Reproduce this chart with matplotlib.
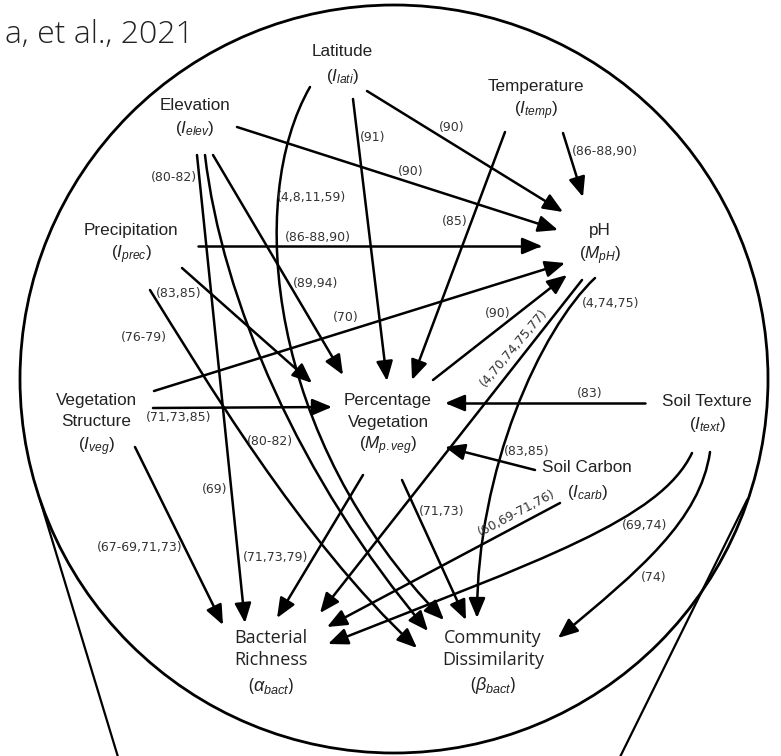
import matplotlib
matplotlib.use("Agg")
import matplotlib.pyplot as plt
from matplotlib import font_manager
from matplotlib.patches import Circle, FancyArrowPatch
from matplotlib.path import Path

plt.rcParams['mathtext.fontset'] = 'custom'
plt.rcParams['mathtext.rm'] = 'Liberation Sans'
plt.rcParams['mathtext.it'] = 'Liberation Sans:italic'

# node labels: (lines of text, x, y of each line)
node_names = ["Latitude", "Elevation", "Temperature", "pH", "Precipitation",
              "Vegetation Structure", "Percentage Vegetation", "Soil Texture",
              "Soil Carbon", "Bacterial Richness", "Community Dissimilarity"]
node_lines = [
    ["Latitude", r"($I_{lati}$)"],
    ["Elevation", r"($I_{elev}$)"],
    ["Temperature", r"($I_{temp}$)"],
    ["pH", r"($M_{pH}$)"],
    ["Precipitation", r"($I_{prec}$)"],
    ["Vegetation", "Structure", r"($I_{veg}$)"],
    ["Percentage", "Vegetation", r"($M_{p.veg}$)"],
    ["Soil Texture", r"($I_{text}$)"],
    ["Soil Carbon", r"($I_{carb}$)"],
    ["Bacterial", "Richness", r"($\alpha_{bact}$)"],
    ["Community", "Dissimilarity", r"($\beta_{bact}$)"],
]
node_x = [342, 195, 536, 600, 131, 96, 388, 707, 587, 271, 493]
node_y = [[52, 77], [105, 129], [87, 111], [231, 256], [230, 255],
          [400, 422, 447], [400, 422, 446], [402, 425], [468, 493],
          [638, 660, 686], [638, 660, 686]]

# edges: source, target, citation
edges = [
    ("Latitude", "pH", "(90)"),
    ("Latitude", "Percentage Vegetation", "(91)"),
    ("Latitude", "Community Dissimilarity", "(4,8,11,59)"),
    ("Temperature", "pH", "(86-88,90)"),
    ("Temperature", "Percentage Vegetation", "(85)"),
    ("Elevation", "pH", "(90)"),
    ("Elevation", "Community Dissimilarity", "(80-82)"),
    ("Elevation", "Percentage Vegetation", "(89,94)"),
    ("Elevation", "Bacterial Richness", "(69)"),
    ("Precipitation", "pH", "(86-88,90)"),
    ("Precipitation", "Percentage Vegetation", "(83,85)"),
    ("Precipitation", "Community Dissimilarity", "(76-79)"),
    ("Vegetation Structure", "pH", "(70)"),
    ("Vegetation Structure", "Percentage Vegetation", "(71,73,85)"),
    ("Vegetation Structure", "Bacterial Richness", "(67-69,71,73)"),
    ("Percentage Vegetation", "pH", "(90)"),
    ("Percentage Vegetation", "Bacterial Richness", "(71,73,79)"),
    ("Percentage Vegetation", "Community Dissimilarity", "(71,73)"),
    ("pH", "Bacterial Richness", "(4,70,74,75,77)"),
    ("pH", "Community Dissimilarity", "(4,74,75)"),
    ("Soil Texture", "Percentage Vegetation", "(83)"),
    ("Soil Texture", "Bacterial Richness", "(69,74)"),
    ("Soil Texture", "Community Dissimilarity", "(74)"),
    ("Soil Carbon", "Percentage Vegetation", "(83,85)"),
    ("Soil Carbon", "Bacterial Richness", "(60,69-71,76)"),
]
extra_labels = [("(80-82)", 270, 442)]

# drawing geometry of each edge: path points (2 = straight, 4 = cubic curve)
edge_paths = [
    [(367, 91), (563, 212)],
    [(353, 99), (387, 381)],
    [(310, 87), (245, 200), (268, 440), (444, 620)],
    [(563, 133), (583, 197)],
    [(505, 132), (412, 380)],
    [(237, 127), (558, 230)],
    [(205, 155), (222, 300), (300, 480), (428, 631)],
    [(213, 155), (343, 375)],
    [(197, 155), (245, 623)],
    [(198, 246), (542, 246)],
    [(182, 268), (312, 383)],
    [(150, 290), (200, 370), (300, 540), (417, 648)],
    [(154, 391), (565, 263)],
    [(153, 408), (332, 407)],
    [(135, 447), (223, 625)],
    [(433, 380), (567, 275)],
    [(363, 475), (277, 618)],
    [(402, 480), (466, 620)],
    [(582, 280), (320, 613)],
    [(595, 278), (540, 330), (477, 470), (477, 618)],
    [(645, 403), (445, 403)],
    [(692, 453), (660, 520), (540, 560), (328, 644)],
    [(710, 452), (700, 520), (640, 570), (558, 638)],
    [(535, 470), (445, 447)],
    [(560, 503), (327, 627)],
]
label_pos = [
    (452, 128, 0), (373, 138, 0), (312, 197, 0), (605, 152, 0), (455, 221, 0),
    (411, 171, 0), (174, 178, 0), (316, 284, 0), (215, 489, 0), (318, 237, 0),
    (179, 293, 0), (144, 337, 0), (346, 317, 0), (179, 417, 0), (140, 548, 0),
    (498, 313, 0), (276, 558, 0), (442, 511, 0), (514, 348, 50), (611, 304, 0),
    (590, 394, 0), (645, 525, 0), (654, 577, 0), (527, 452, 0), (517, 513, 28),
]

# a light weight face (normal width) for the header, if one is installed
header_font = font_manager.FontProperties(family='Open Sans', size=23)
for fam in ['Open Sans', 'Noto Sans', 'Lato', 'Roboto', 'Inter']:
    light = [f for f in font_manager.fontManager.ttflist
             if f.name == fam and f.style == 'normal' and f.stretch == 'normal'
             and isinstance(f.weight, int) and 250 <= f.weight <= 300]
    if light:
        header_font = font_manager.FontProperties(fname=light[0].fname, size=23)
        break

fig = plt.figure(figsize=(7.81, 7.56), dpi=100)
ax = fig.add_axes([0, 0, 1, 1])
ax.set_xlim(0, 781)
ax.set_ylim(756, 0)
ax.axis('off')

# circle and callout lines
ax.add_patch(Circle((394, 379), 374, fill=False, lw=2.0, color='black'))
ax.plot([40, 118], [500, 757], color='black', lw=1.6)
ax.plot([747, 620], [500, 757], color='black', lw=1.6)

ax.text(194, 43, "a, et al., 2021", fontproperties=header_font,
        color='#222222', ha='right', va='baseline')

for i in range(len(node_names)):
    bottom = node_names[i] in ("Bacterial Richness", "Community Dissimilarity")
    for line, yy in zip(node_lines[i], node_y[i]):
        if bottom:
            ax.text(node_x[i], yy, line, fontsize=13, family='Open Sans',
                    color='#222222', ha='center', va='center')
        else:
            ax.text(node_x[i], yy, line, fontsize=12.3, family='Liberation Sans',
                    color='#222222', ha='center', va='center')

for (src, dst, cite), pts, (lx, ly, rot) in zip(edges, edge_paths, label_pos):
    if len(pts) == 2:
        path = Path(pts, [Path.MOVETO, Path.LINETO])
    else:
        path = Path(pts, [Path.MOVETO, Path.CURVE4, Path.CURVE4, Path.CURVE4])
    arr = FancyArrowPatch(path=path, arrowstyle='-|>,head_length=1.0,head_width=0.42',
                          mutation_scale=12, lw=1.8, color='black')
    ax.add_patch(arr)
    ax.text(lx, ly, cite, fontsize=9, family='DejaVu Sans', color='#333333',
            ha='center', va='center', rotation=rot, rotation_mode='anchor')

for txt, lx, ly in extra_labels:
    ax.text(lx, ly, txt, fontsize=9, family='DejaVu Sans', color='#333333',
            ha='center', va='center')

fig.savefig("out.png", dpi=100)
